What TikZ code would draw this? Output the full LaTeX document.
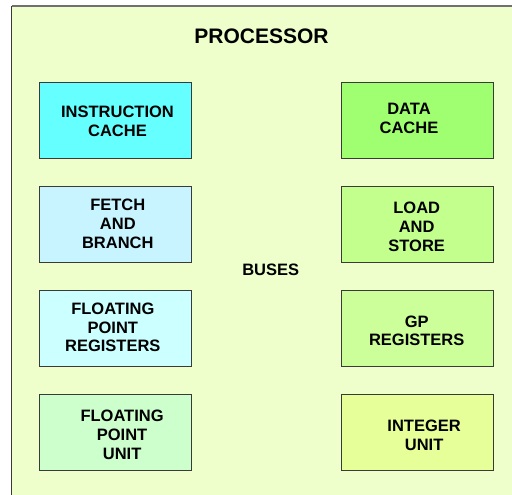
\documentclass[tikz,border=0pt]{standalone}
\usepackage{fontspec}
\setmainfont{Liberation Sans}
\definecolor{bgc}{HTML}{EEFFCC}
\definecolor{icache}{HTML}{66FFFF}
\definecolor{dcache}{HTML}{A0FF70}
\definecolor{fetch}{HTML}{C8F4FF}
\definecolor{load}{HTML}{C2FF8C}
\definecolor{fpreg}{HTML}{CCFFFF}
\definecolor{gpreg}{HTML}{CCFF99}
\definecolor{fpu}{HTML}{CCFFCC}
\definecolor{intu}{HTML}{E6FF99}
\definecolor{edge}{HTML}{3A3A3A}
\tikzset{
  unitbox/.style={draw=edge, line width=1.2bp, minimum width=152bp, minimum height=76bp, inner sep=0pt},
  lbl/.style={font=\bfseries\fontsize{16.5bp}{18.8bp}\selectfont, align=center, inner sep=0pt, text=black},
}
\begin{document}
\begin{tikzpicture}[x=1bp,y=-1bp]
\useasboundingbox (0,0) rectangle (512,495);
\fill[bgc] (11.5,6.5) rectangle (530,520);
\draw[line width=2bp, color={rgb,255:red,112;green,112;blue,112}] (11.5,6.5) -- (530,6.5);
\draw[line width=1.5bp, edge] (11.5,6.5) -- (11.5,520);
\node[lbl, font=\bfseries\fontsize{21bp}{24bp}\selectfont] (title) at (261.5,36) {PROCESSOR};
% boxes
\node[unitbox, fill=icache] (ic) at (115.3,120.5) {};
\node[unitbox, fill=dcache] (dc) at (417.3,120.5) {};
\node[unitbox, fill=fetch] (fb) at (115.3,224.3) {};
\node[unitbox, fill=load] (ls) at (417.3,224.3) {};
\node[unitbox, fill=fpreg] (fr) at (115.3,328.7) {};
\node[unitbox, fill=gpreg] (gr) at (417.3,328.7) {};
\node[unitbox, fill=fpu] (fu) at (115.3,432.7) {};
\node[unitbox, fill=intu] (iu) at (417.3,432.7) {};
% labels
\node[lbl] (ict) at ([xshift=2.2bp,yshift=-0.5bp]ic.center) {INSTRUCTION\\CACHE};
\node[lbl] (dct) at ([xshift=-8.3bp,yshift=2.2bp]dc.center) {DATA\\CACHE};
\node[lbl] (fbt) at ([xshift=2.5bp,yshift=0.3bp]fb.center) {FETCH\\AND\\BRANCH};
\node[lbl] (lst) at ([xshift=-0.6bp,yshift=-2.4bp]ls.center) {LOAD\\AND\\STORE};
\node[lbl] (frt) at ([xshift=-2.5bp,yshift=1.2bp]fr.center) {FLOATING\\POINT\\REGISTERS};
\node[lbl] (grt) at ([xshift=-0.6bp,yshift=-2.1bp]gr.center) {GP\\REGISTERS};
\node[lbl] (fut) at ([xshift=6.8bp,yshift=-2.3bp]fu.center) {FLOATING\\POINT\\UNIT};
\node[lbl] (iut) at ([xshift=6.8bp,yshift=-2.3bp]iu.center) {INTEGER\\UNIT};
\node[lbl] (bus) at (270.7,270) {BUSES};
\end{tikzpicture}
\end{document}
